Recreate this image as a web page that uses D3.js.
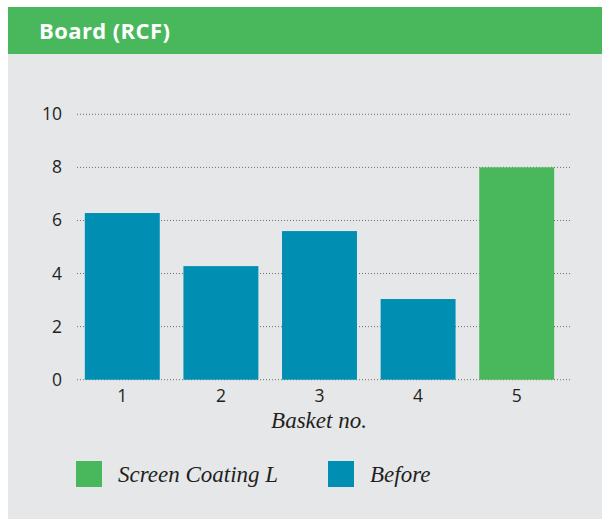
<!DOCTYPE html>
<html>
<head>
<meta charset="utf-8">
<script src="https://cdn.jsdelivr.net/npm/d3@7"></script>
<style>
  body { margin: 0; background: #fff; }
  #chart { width: 602px; height: 519px; }
</style>
</head>
<body>
<div id="chart"></div>
<script>
const width = 602,
    height = 519;

// data
const baskets = ["1", "2", "3", "4", "5"];
const values = [6.28, 4.28, 5.6, 3.04, 8.0];
const series = ["Before", "Before", "Before", "Before", "Screen Coating L"];
const yTicks = [0, 2, 4, 6, 8, 10];
const legendItems = ["Screen Coating L", "Before"];

const green = "#49b85c",
    blue = "#008fb3";

let svg = d3.select('#chart').append('svg')
    .attr('width', width)
    .attr('height', height);

// panel
svg.append("rect")
    .attr("x", 8).attr("y", 54)
    .attr("width", width - 8).attr("height", height - 54)
    .attr("fill", "#e6e7e9");

svg.append("rect")
    .attr("x", 8).attr("y", 7)
    .attr("width", width - 8).attr("height", 47)
    .attr("fill", green);

svg.append("text")
    .attr("x", 39).attr("y", 39)
    .attr("fill", "#fff")
    .style("font-family", "'Open Sans', sans-serif")
    .style("font-weight", "700")
    .style("font-size", "22px")
    .style("letter-spacing", "0.4px")
    .text("Board (RCF)");

// scales
let x = d3.scaleBand()
    .domain(baskets)
    .range([73, 566])
    .paddingInner(0.24)
    .paddingOuter(0.12);

let y = d3.scaleLinear()
    .domain([0, 10])
    .range([379.7, 114.3]);

let color = d3.scaleOrdinal()
    .domain(legendItems)
    .range([green, blue]);

// gridlines
svg.append("g")
    .selectAll("line")
    .data(yTicks)
    .enter()
    .append("line")
    .attr("x1", 77).attr("x2", 570)
    .attr("y1", d => y(d)).attr("y2", d => y(d))
    .attr("stroke", "#6d6e70")
    .attr("stroke-width", 1)
    .attr("stroke-dasharray", "1,2");

// y axis labels
svg.append("g")
    .selectAll("text")
    .data(yTicks)
    .enter()
    .append("text")
    .attr("x", 62)
    .attr("y", d => y(d) + 6)
    .attr("text-anchor", "end")
    .attr("fill", "#231f20")
    .style("font-family", "'Open Sans', sans-serif")
    .style("font-size", "17.5px")
    .text(d => d);

// bars
svg.append("g")
    .selectAll("rect")
    .data(values)
    .enter()
    .append("rect")
    .attr("x", (d, i) => x(baskets[i]))
    .attr("width", x.bandwidth())
    .attr("y", d => y(d))
    .attr("height", d => y(0) - y(d))
    .attr("fill", (d, i) => color(series[i]));

// x labels
svg.append("g")
    .selectAll("text")
    .data(baskets)
    .enter()
    .append("text")
    .attr("x", d => x(d) + x.bandwidth() / 2)
    .attr("y", 402)
    .attr("text-anchor", "middle")
    .attr("fill", "#231f20")
    .style("font-family", "'Open Sans', sans-serif")
    .style("font-size", "17.5px")
    .text(d => d);

svg.append("text")
    .attr("x", 319).attr("y", 428)
    .attr("text-anchor", "middle")
    .attr("fill", "#231f20")
    .style("font-family", "'Liberation Serif', serif")
    .style("font-style", "italic")
    .style("font-size", "23px")
    .text("Basket no.");

// legend
let legend = svg.append("g")
    .selectAll("g")
    .data(legendItems)
    .enter()
    .append("g")
    .attr("transform", (d, i) => "translate(" + [76, 328][i] + ",461)");

legend.append("rect")
    .attr("width", 26).attr("height", 26)
    .attr("fill", d => color(d));

legend.append("text")
    .attr("x", 42).attr("y", 21)
    .attr("fill", "#231f20")
    .style("font-family", "'Liberation Serif', serif")
    .style("font-style", "italic")
    .style("font-size", "23px")
    .text(d => d);
</script>
</body>
</html>
